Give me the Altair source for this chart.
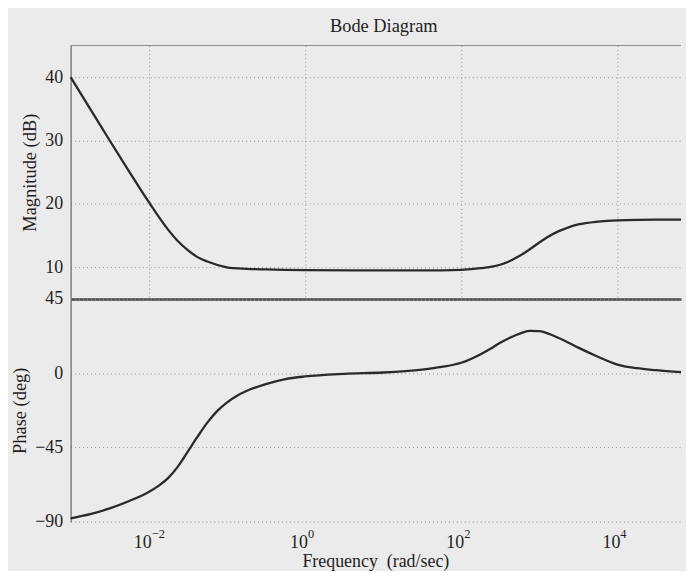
import altair as alt
import pandas as pd

# ---- data (log10 of frequency, value) ----
mag_logw = [-3.0, -2.75, -2.5, -2.25, -2.0, -1.75, -1.625, -1.5, -1.375, -1.25, -1.0,
            -0.75, -0.5, 0.0, 1.0, 1.5, 2.0, 2.25, 2.5, 2.625, 2.75, 2.875, 3.0, 3.125,
            3.25, 3.375, 3.5, 3.75, 4.0, 4.5, 4.815]
mag_db = [40.0, 35.0, 30.0, 25.1, 20.3, 15.9, 14.1, 12.7, 11.6, 10.9, 10.0,
          9.75, 9.65, 9.55, 9.5, 9.5, 9.6, 9.85, 10.4, 11.0, 11.8, 12.8, 13.9, 14.9,
          15.7, 16.3, 16.75, 17.2, 17.4, 17.5, 17.5]

ph_logw = [-3.0, -2.75, -2.5, -2.25, -2.0, -1.875, -1.75, -1.625, -1.5, -1.375, -1.25,
           -1.125, -1.0, -0.875, -0.75, -0.5, -0.25, 0.0, 0.5, 1.0, 1.5, 1.75, 2.0,
           2.25, 2.375, 2.5, 2.625, 2.75, 2.875, 3.0, 3.125, 3.25, 3.375, 3.5, 3.75,
           4.0, 4.25, 4.5, 4.815]
ph_deg = [-88.0, -85.5, -82.0, -77.5, -72.0, -68.3, -63.5, -56.5, -47.5, -38.5, -30.0,
          -23.0, -17.8, -13.8, -10.8, -6.6, -3.6, -2.0, -0.4, 0.4, 2.2, 3.8, 6.3,
          11.5, 14.8, 18.5, 21.5, 24.0, 25.6, 25.5, 23.8, 21.3, 18.5, 15.5, 10.0,
          5.2, 3.0, 1.8, 0.6]

tick_exps = [-2, 0, 2, 4]
tick_exp_labels = ["\u22122", "0", "2", "4"]
mag_ticks = [10, 20, 30, 40]
ph_ticks = [-90, -45, 0, 45]
mag_range = [5, 45]
ph_range = [-90, 45]
freq_range = [1e-3, 10 ** 4.815]
x_title = "Frequency\u00a0\u00a0(rad/sec)"

mag_df = pd.DataFrame({"w": [10.0 ** v for v in mag_logw], "db": mag_db})
ph_df = pd.DataFrame({"w": [10.0 ** v for v in ph_logw], "deg": ph_deg})
tick_vals = [10.0 ** e for e in tick_exps]
tick_df = pd.DataFrame({"w": tick_vals, "base": ["10"] * len(tick_exps), "exp": tick_exp_labels})
top_df = pd.DataFrame({"db": [mag_range[1]]})
xtitle_df = pd.DataFrame({"t": [x_title]})

FONT = "Liberation Serif"
TXT = "#1e1e1e"
LINE = "#2a2a2a"
BG = "#ebebeb"
W, H1, H2 = 614, 255, 224
xs = alt.Scale(type="log", domain=freq_range, nice=False)
ys_mag = alt.Scale(domain=mag_range, nice=False, zero=False)
ys_ph = alt.Scale(domain=ph_range, nice=False, zero=False)
GRID = dict(grid=True, gridColor="#8e8e8e", gridDash=[1, 3], gridWidth=1)

# ---- magnitude panel ----
mag_line = alt.Chart(mag_df).mark_line(color=LINE, strokeWidth=2.3, interpolate="monotone").encode(
    x=alt.X("w:Q", scale=xs,
            axis=alt.Axis(values=tick_vals, labels=False, ticks=False, title=None,
                          domainColor="#4a4a4a", domainWidth=2.6, **GRID)),
    y=alt.Y("db:Q", scale=ys_mag,
            axis=alt.Axis(values=mag_ticks, title="Magnitude (dB)", ticks=False, **GRID)),
)
top_border = alt.Chart(top_df).mark_rule(color="#8a8a8a", strokeWidth=1).encode(
    y=alt.Y("db:Q", scale=ys_mag))
upper = alt.layer(mag_line, top_border).properties(
    width=W, height=H1,
    title=alt.TitleParams("Bode Diagram", frame="group", anchor="middle", baseline="alphabetic",
                          offset=-5, dx=8, font=FONT, fontSize=18.5, fontWeight="normal", color=TXT),
)

# ---- phase panel ----
ph_line = alt.Chart(ph_df).mark_line(color=LINE, strokeWidth=2.3, interpolate="monotone").encode(
    x=alt.X("w:Q", scale=xs,
            axis=alt.Axis(values=tick_vals, labels=False, ticks=False, title=None,
                          domainColor="#777777", **GRID)),
    y=alt.Y("deg:Q", scale=ys_ph,
            axis=alt.Axis(values=ph_ticks, title="Phase (deg)", ticks=False, **GRID)),
)
base_txt = alt.Chart(tick_df).mark_text(align="right", baseline="alphabetic", dx=3,
                                        font=FONT, fontSize=18, color=TXT).encode(
    x=alt.X("w:Q", scale=xs, axis=None), y=alt.value(H2 + 27), text="base:N")
exp_txt = alt.Chart(tick_df).mark_text(align="left", baseline="alphabetic", dx=3,
                                       font=FONT, fontSize=12.5, color=TXT).encode(
    x=alt.X("w:Q", scale=xs, axis=None), y=alt.value(H2 + 16), text="exp:N")
xtitle_txt = alt.Chart(xtitle_df).mark_text(align="center", baseline="alphabetic",
                                            font=FONT, fontSize=18, color=TXT).encode(
    x=alt.value(307), y=alt.value(H2 + 46), text="t:N")
lower = alt.layer(ph_line, base_txt, exp_txt, xtitle_txt).properties(width=W, height=H2)

chart = alt.vconcat(upper, lower, spacing=0, bounds="flush").configure_axis(
    labelFont=FONT, titleFont=FONT, labelFontSize=18, titleFontSize=18.5,
    labelColor=TXT, titleColor=TXT, titleFontWeight="normal",
    labelPadding=8, titlePadding=5, domainColor="#666666", domainWidth=1.2,
).configure_view(strokeWidth=0).properties(
    background=BG,
    padding={"left": 2, "top": 7, "right": 0, "bottom": -2},
)

chart.save("out.html", embed_options={"renderer": "svg", "actions": False})
